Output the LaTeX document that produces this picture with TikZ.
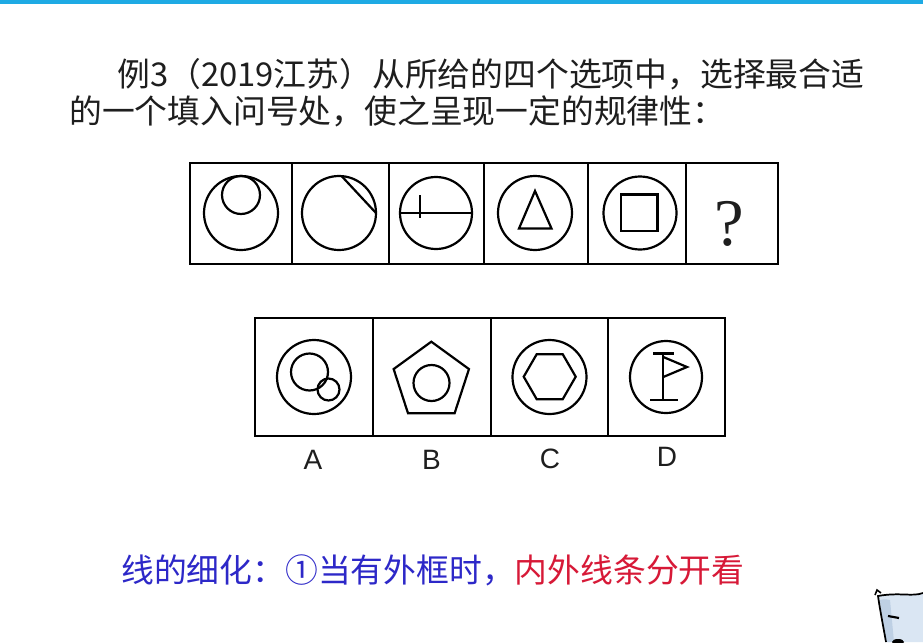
\documentclass[tikz,border=0pt]{standalone}
\usepackage{fontspec}
\usetikzlibrary{calc}
\newfontfamily\cjk{Noto Sans CJK SC}
\newfontfamily\labfont{Liberation Sans}
\newfontfamily\qfont{Liberation Serif}
\definecolor{barblue}{RGB}{30,170,228}
\definecolor{noteblue}{RGB}{45,40,200}
\definecolor{notered}{RGB}{215,25,55}
\definecolor{catfill}{RGB}{218,230,243}
\definecolor{catshade}{RGB}{190,208,228}
\definecolor{txt}{RGB}{30,30,30}
\begin{document}
\begin{tikzpicture}[x=0.75pt,y=-0.75pt,
  box/.style={line width=1.9pt},
  fig/.style={line width=1.65pt},
  titletext/.style={anchor=west,inner sep=0pt,text=txt,font=\cjk\fontsize{24.6pt}{28pt}\selectfont},
  optlabel/.style={inner sep=0pt,text=txt,font=\labfont\fontsize{21pt}{24pt}\selectfont},
  line join=miter]
\fill[white] (0,0) rectangle (923,642);
\useasboundingbox (0,0) rectangle (923,642);
\fill[barblue] (0,0) rectangle (923,4);

% title
\node[titletext] (t1) at (117,74) {例3（2019江苏）从所给的四个选项中，选择最合适};
\node[titletext] (t2) at (69,111) {的一个填入问号处，使之呈现一定的规律性：};

% question row
\draw[box] (190,163) rectangle (778,264);
\foreach \x in {292,389,484,588,686} \draw[box] (\x,163) -- (\x,264);
% cell 1
\draw[fig] (241,213) circle[radius=37];
\draw[fig] (241,195) circle[radius=19];
% cell 2
\draw[fig] (339,213) circle[radius=37];
\draw[fig] (341.6,176.1) -- (376,213);
% cell 3
\draw[fig] (436,213) circle[radius=36];
\draw[fig] (400,213) -- (472,213);
\draw[fig] (420,195) -- (420,218);
% cell 4
\draw[fig] (535,213) circle[radius=37];
\draw[fig] (535,191) -- (551.5,228.5) -- (519,228.5) -- cycle;
% cell 5
\draw[fig] (640,213) circle[radius=36.5];
\draw[fig] (621,194.5) rectangle (657.5,231);
% cell 6
\node[inner sep=0pt,text=txt,font=\qfont\fontsize{50pt}{50pt}\selectfont] (q) at (729,224) {?};

% options row
\draw[box] (255,318) rectangle (725,436);
\foreach \x in {373,491,608} \draw[box] (\x,318) -- (\x,436);
% A
\draw[fig] (314,377) circle[radius=37];
\draw[fig] (309.5,372) circle[radius=18.5];
\draw[fig] (328.5,389.5) circle[radius=11];
% B
\coordinate (pc) at (431.3,381.3);
\draw[fig] ($(pc)+(-90:39.6)$) -- ($(pc)+(-18:39.6)$) -- ($(pc)+(54:39.6)$) -- ($(pc)+(126:39.6)$) -- ($(pc)+(198:39.6)$) -- cycle;
\draw[fig] (431.5,383) circle[radius=18];
% C
\coordinate (hc) at (549.7,376.7);
\draw[fig] (549.5,377) circle[radius=37];
\draw[fig] ($(hc)+(0:26)$) -- ($(hc)+(60:26)$) -- ($(hc)+(120:26)$) -- ($(hc)+(180:26)$) -- ($(hc)+(240:26)$) -- ($(hc)+(300:26)$) -- cycle;
% D
\draw[fig] (666,377) circle[radius=36];
\draw[fig] (663.3,353.5) -- (663.3,400);
\draw[fig] (653,353.5) -- (674,353.5);
\draw[fig] (650,400) -- (678,400);
\draw[fig] (663.3,357) -- (687,367) -- (663.3,377);

\node[optlabel] (la) at (313,460) {A};
\node[optlabel] (lb) at (431.5,460) {B};
\node[optlabel] (lc) at (550,459) {C};
\node[optlabel] (ld) at (667,457) {D};

% note
\node[titletext] (note) at (121,570) {\textcolor{noteblue}{线的细化：①当有外框时，}\textcolor{notered}{内外线条分开看}};

% cartoon corner
\fill[catfill] (878,596) .. controls (900,592) and (912,597) .. (923,593) -- (923,642) -- (886,642) .. controls (883,625) and (880,610) .. (878,596);
\fill[catshade] (880,600) .. controls (884,599) and (887,599) .. (890,600) -- (894,642) -- (886,642) .. controls (883,625) and (881,612) .. (880,600);
\draw[line width=1.3pt] (923,593) .. controls (912,597) and (900,592) .. (878,596) .. controls (880,610) and (883,625) .. (886,642);
\draw[line width=1.2pt] (875,595) -- (877,590) -- (881,593);
\draw[line width=1.6pt] (888,616) -- (899,618);
\fill (898,642) ellipse[x radius=6,y radius=3];
\end{tikzpicture}
\end{document}
